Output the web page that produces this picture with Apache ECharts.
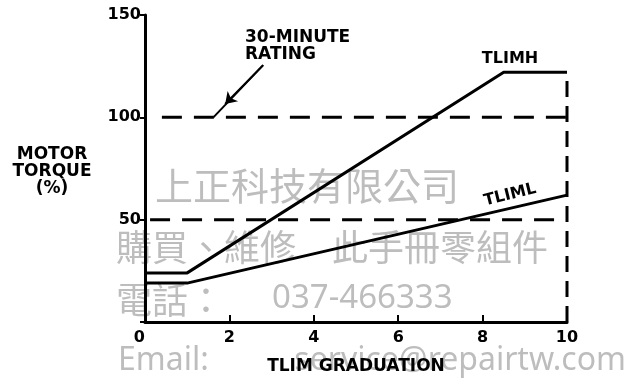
<!DOCTYPE html>
<html>
<head>
<meta charset="utf-8">
<script src="https://cdn.jsdelivr.net/npm/echarts@6/dist/echarts.min.js"></script>
<style>
    html, body { margin: 0; padding: 0; background: #fff; }
    #chartTorque { width: 624px; height: 380px; }
</style>
</head>
<body>
<div id="chartTorque"></div>
<script>
    // TLIM graduation (x) vs motor torque % (y)
    const tlimH = [[0, 24], [1, 24], [8.5, 122], [10, 122]];
    const tlimL = [[0, 19], [1, 19], [10, 62]];
    // 30-minute rating dashed levels
    const rating100 = [[0.4, 100], [10, 100]];
    const rating50 = [[0.12, 50], [10, 50]];
    const limitEdge = [[10, 0], [10, 122]];
    // leader line from "30-MINUTE RATING" to the 100% level
    const leader = [[2.8, 125.5], [1.62, 100]];
    const leaderTip = [1.9, 106.5];

    const labelFont = 'DejaVu Sans';
    const wmColor = '#bdbdbd';

    var myChart = echarts.init(document.getElementById('chartTorque'));
    var option = {
        animation: false,
        grid: {
            left: 145,
            right: 57,
            top: 15,
            bottom: 57
        },
        xAxis: {
            type: 'value',
            min: 0,
            max: 10,
            interval: 2,
            name: 'TLIM GRADUATION',
            nameLocation: 'middle',
            nameGap: 36,
            nameTextStyle: { fontFamily: labelFont, fontWeight: 'bold', fontSize: 17, color: '#000' },
            axisLine: { lineStyle: { color: '#000', width: 3 } },
            axisTick: { inside: true, length: 7, lineStyle: { color: '#000', width: 2 } },
            axisLabel: {
                margin: 8,
                alignMinLabel: 'right',
                fontFamily: labelFont, fontWeight: 'bold', fontSize: 16, color: '#000'
            },
            splitLine: { show: false }
        },
        yAxis: {
            type: 'value',
            min: 0,
            max: 150,
            interval: 50,
            axisLine: { show: true, lineStyle: { color: '#000', width: 3 } },
            axisTick: { show: true, length: 5, lineStyle: { color: '#000', width: 2 } },
            axisLabel: {
                margin: 4,
                formatter: (v) => v === 0 ? '' : v,
                fontFamily: labelFont, fontWeight: 'bold', fontSize: 16, color: '#000'
            },
            splitLine: { show: false }
        },
        graphic: [
            // watermark
            { type: 'text', z: -10, x: 155, y: 186, style: { text: '上正科技有限公司', font: '38px "Noto Sans CJK TC"', fill: wmColor, verticalAlign: 'middle' } },
            { type: 'text', z: -10, x: 116, y: 247, style: { text: '購買、維修　此手冊零組件', font: '36px "Noto Sans CJK TC"', fill: wmColor, verticalAlign: 'middle' } },
            { type: 'text', z: -10, x: 116, y: 300, style: { text: '電話：', font: '36px "Noto Sans CJK TC"', fill: wmColor, verticalAlign: 'middle' } },
            { type: 'text', z: -10, x: 272, y: 299, style: { text: '037-466333', font: '33px "Noto Sans"', fill: wmColor, verticalAlign: 'middle' } },
            { type: 'text', z: -10, x: 118, y: 361, style: { text: 'Email:', font: '32px "Noto Sans"', fill: wmColor, verticalAlign: 'middle' } },
            { type: 'text', z: -10, x: 626, y: 361, style: { text: 'service@repairtw.com', font: '32px "Noto Sans"', fill: wmColor, align: 'right', verticalAlign: 'middle' } },
            // chart annotations
            { type: 'text', x: 52, y: 172, style: { text: 'MOTOR\nTORQUE\n(%)', font: 'bold 17px "DejaVu Sans"', lineHeight: 17, fill: '#000', align: 'center', verticalAlign: 'middle' } },
            { type: 'text', x: 245, y: 46, style: { text: '30-MINUTE\nRATING', font: 'bold 17px "DejaVu Sans"', lineHeight: 17, fill: '#000', align: 'left', verticalAlign: 'middle' } },
            { type: 'text', x: 510, y: 59, style: { text: 'TLIMH', font: 'bold 16px "DejaVu Sans"', fill: '#000', align: 'center', verticalAlign: 'middle' } },
            { type: 'text', x: 510, y: 195, rotation: 14 * Math.PI / 180, originX: 0, originY: 0, style: { text: 'TLIML', font: 'bold 16px "DejaVu Sans"', fill: '#000', align: 'center', verticalAlign: 'middle' } }
        ],
        series: [
            {
                name: 'TLIMH', type: 'line', symbol: 'none', data: tlimH,
                lineStyle: { color: '#000', width: 3 }
            },
            {
                name: 'TLIML', type: 'line', symbol: 'none', data: tlimL,
                lineStyle: { color: '#000', width: 3 }
            },
            {
                name: 'rating100', type: 'line', symbol: 'none', data: rating100,
                lineStyle: { color: '#000', width: 3, type: [20, 12] }
            },
            {
                name: 'rating50', type: 'line', symbol: 'none', data: rating50,
                lineStyle: { color: '#000', width: 3, type: [20, 12] }
            },
            {
                name: 'limit', type: 'line', symbol: 'none', data: limitEdge,
                lineStyle: { color: '#000', width: 3, type: [16, 9] }
            },
            {
                name: 'leader', type: 'line', symbol: 'none', data: leader,
                lineStyle: { color: '#000', width: 2 },
                markLine: {
                    silent: true,
                    symbol: ['none', 'arrow'],
                    symbolSize: 11,
                    label: { show: false },
                    lineStyle: { color: '#000', width: 2, type: 'solid' },
                    data: [[{ coord: leader[0] }, { coord: leaderTip }]]
                }
            }
        ]
    };
    myChart.setOption(option);
</script>
</body>
</html>
